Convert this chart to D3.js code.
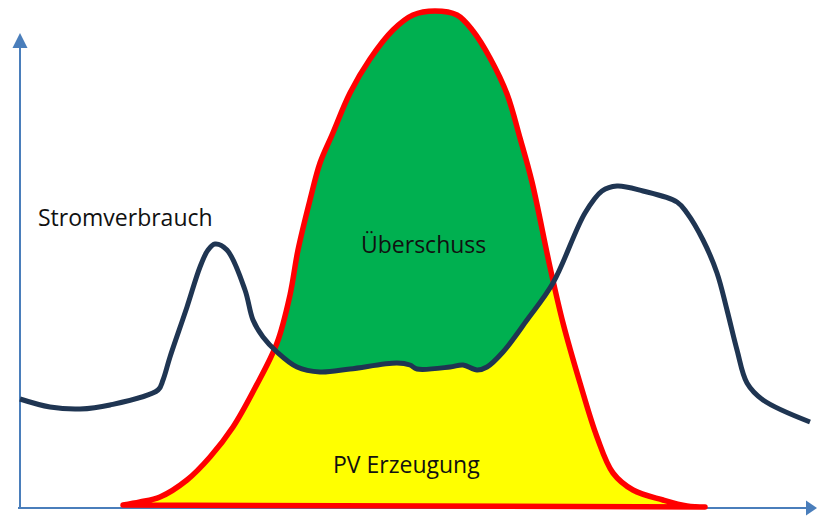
<!DOCTYPE html>
<html>
<head>
<meta charset="utf-8">
<script src="https://cdn.jsdelivr.net/npm/d3@7"></script>
<style>
  html, body { margin: 0; padding: 0; background: #ffffff; }
  svg { display: block; }
  text { font-family: "Open Sans", "Noto Sans", sans-serif; fill: #111; }
</style>
</head>
<body>
<svg id="chart" width="817" height="516"></svg>
<script>
// Stromverbrauch (consumption) profile: [time, power]
const consumption = [
  [0,109],[30,101],[60,99],[90,103],[138,118],[143,128],[150,151],[167,201],[180,241],
  [188,258],[195,264],[207,258],[225,218],[233,188],[243,171],[257,156],[277,141],
  [300,136],[330,139],[377,145],[390,143],[397,139],[430,141],[443,143],[457,138],
  [467,141],[483,156],[507,188],[533,225],[565,295],[582,317],[597,322],[623,317],
  [657,306],[667,295],[683,268],[697,235],[707,198],[717,158],[727,125],[743,108],[790,86]
];
// PV Erzeugung (generation) profile: [time, power]
const pvGeneration = [
  [103,3],[120,6],[140,11],[167,28],[190,51],[213,81],[235,120],[257,165],[270,213],
  [278,258],[290,308],[300,345],[312,373],[330,415],[350,449],[373,478],[393,493],
  [415,497],[437,493],[453,477],[470,450],[487,414],[500,370],[512,326],[530,241],
  [543,185],[560,125],[577,71],[593,35],[613,18],[643,8],[667,2],[685,1]
];
// Labels
const labels = [
  { text: "Stromverbrauch", t: 18, p: 282 },
  { text: "Überschuss", t: 341, p: 255 },
  { text: "PV Erzeugung", t: 313, p: 35 }
];

const svg = d3.select("#chart");
const x = d3.scaleLinear().domain([0, 797]).range([20, 817]);
const y = d3.scaleLinear().domain([0, 500]).range([508, 8]);

const line = d3.line().x(d => x(d[0])).y(d => y(d[1])).curve(d3.curveCatmullRom.alpha(0.5));

const defs = svg.append("defs");
// region above consumption curve
const consPath = line(consumption);
const first = consumption[0], last = consumption[consumption.length - 1];
defs.append("clipPath").attr("id", "aboveCons")
  .append("path")
  .attr("d", consPath + `L${x(last[0])},${y(520)}L${x(first[0])},${y(520)}Z`);

const pvPath = line(pvGeneration) + "Z";

// yellow PV fill
svg.append("path").attr("d", pvPath).attr("fill", "#ffff00");
// green surplus fill
svg.append("path").attr("d", pvPath).attr("fill", "#00b050").attr("clip-path", "url(#aboveCons)");

// axes
const axisColor = "#4a7ebb";
svg.append("line")
  .attr("x1", x(0)).attr("y1", y(0)).attr("x2", x(0)).attr("y2", y(462))
  .attr("stroke", axisColor).attr("stroke-width", 2);
svg.append("path")
  .attr("d", `M${x(0)},${y(475)}L${x(0) - 7.5},${y(460)}L${x(0) + 7.5},${y(460)}Z`)
  .attr("fill", axisColor);
svg.append("line")
  .attr("x1", x(-2)).attr("y1", y(0)).attr("x2", x(788)).attr("y2", y(0))
  .attr("stroke", axisColor).attr("stroke-width", 2);
svg.append("path")
  .attr("d", `M${x(797)},${y(0)}L${x(786)},${y(7.5)}L${x(786)},${y(-7.5)}Z`)
  .attr("fill", axisColor);

// PV outline
svg.append("path").attr("d", pvPath)
  .attr("fill", "none").attr("stroke", "#ff0000").attr("stroke-width", 5.5)
  .attr("stroke-linejoin", "round").attr("stroke-linecap", "round");

// consumption line
svg.append("path").attr("d", consPath)
  .attr("fill", "none").attr("stroke", "#1f3552").attr("stroke-width", 5)
  .attr("stroke-linejoin", "round").attr("stroke-linecap", "butt");

// labels
svg.selectAll("text.lbl").data(labels).enter().append("text")
  .attr("class", "lbl")
  .attr("x", d => x(d.t)).attr("y", d => y(d.p))
  .attr("font-size", 23)
  .text(d => d.text);
</script>
</body>
</html>
